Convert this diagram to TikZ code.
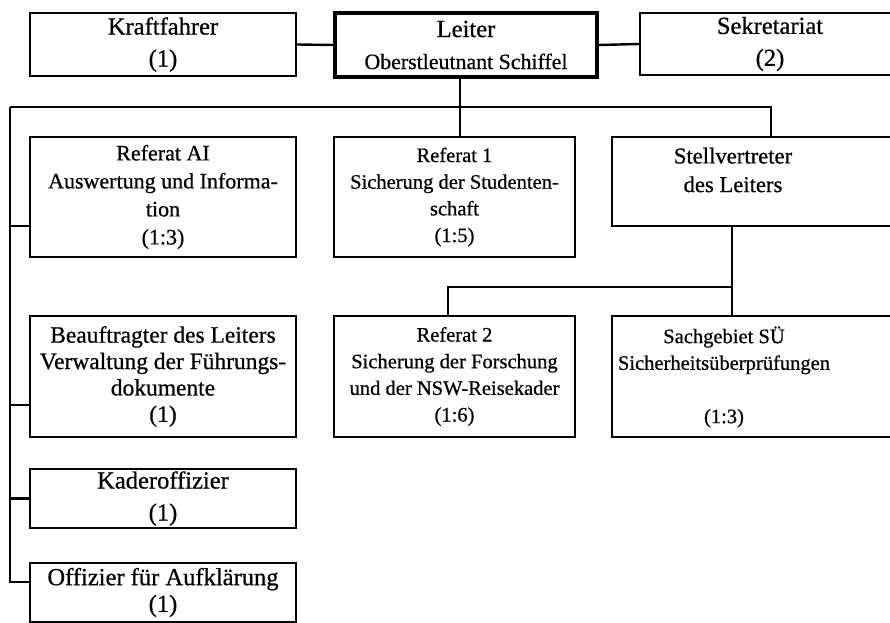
\documentclass[tikz,border=0pt]{standalone}
\usepackage{fontspec}
\setmainfont{Liberation Serif}[RawFeature={embolden=0.7}]
\usepackage{tikz}
\usetikzlibrary{calc}

\begin{document}
\begin{tikzpicture}[
  x=0.75pt, y=-0.75pt,
  font=\fontsize{16.5}{21}\selectfont,
  box/.style   = {draw, line width=1.8pt, align=center, inner sep=0pt},
  boss/.style  = {box, line width=3pt},
  txt/.style   = {align=center, inner sep=0pt},
  link/.style  = {draw, line width=1.8pt},
  big/.style   = {font=\fontsize{18.4}{22}\selectfont},
  narrow/.style= {font=\fontsize{15.4}{20}\selectfont},
]
\useasboundingbox (0,0) rectangle (890,623);
\clip (0,0) rectangle (890,623);

% top row
\node[box, big,  minimum width=199.5pt, minimum height=47.25pt] (kraft)  at (163,44.5) {Kraftfahrer\\[2pt](1)};
\node[boss, big, minimum width=196.5pt, minimum height=48pt]    (leiter) at (466,45)   {Leiter\\[2pt]{\fontsize{16.4}{19}\selectfont Oberstleutnant Schiffel}};
\node[box, big,  minimum width=195pt,   minimum height=46.5pt]  (sekr)   at (770,44)   {Sekretariat\\[2pt](2)};

% second row
\node[box, minimum width=199.5pt, minimum height=90pt]            (refai) at (163,197)   {Referat AI\\Auswertung und Informa-\\tion\\(1:3)};
\node[box, narrow, minimum width=180.75pt, minimum height=90pt]   (ref1)  at (454.5,197) {Referat 1\\Sicherung der Studenten-\\schaft\\(1:5)};
\node[box, minimum width=216pt, minimum height=66.75pt]           (stv)   at (756,181.5) {};
\node[txt, font=\fontsize{17}{21.5}\selectfont] (stvtext) at (733,170) {Stellvertreter\\des Leiters};

% third row
\node[box, font=\fontsize{17.6}{19.8}\selectfont, minimum width=199.5pt, minimum height=90.75pt] (beauf) at (163,376.5) {Beauftragter des Leiters\\Verwaltung der Führungs-\\dokumente\\(1)};
\node[box, narrow, minimum width=180.75pt, minimum height=90.75pt] (ref2)  at (454.5,376.5) {Referat 2\\Sicherung der Forschung\\und der NSW-Reisekader\\(1:6)};
\node[box, minimum width=216pt, minimum height=90.75pt]            (sach)  at (756,376.5)   {};
\node[txt, narrow] (sachtext) at (724,377) {Sachgebiet SÜ\\Sicherheitsüberprüfungen\\\mbox{}\\(1:3)};

% left column below
\node[box, big, minimum width=199.5pt, minimum height=44.25pt] (kader) at (163,498.5) {Kaderoffizier\\[2pt](1)};
\node[box, big, minimum width=199.5pt, minimum height=44.25pt] (offz)  at (163,592.5) {Offizier für Aufklärung\\[-2pt](1)};

% connectors
\coordinate (trunk) at (460,107);
\coordinate (lt) at (10,107);
\coordinate (rt) at (771,107);
\coordinate (sj) at (732,287);

\draw[link] (kraft.east) -- (leiter.west);
\draw[link] (leiter.east) -- (sekr.west);
\draw[link] (leiter.south -| trunk) -- (ref1.north -| trunk);
\draw[link] (lt) -- (rt) -- (stv.north -| rt);
\draw[link] (lt) |- ($(offz.west)+(0,-10.5)$);
\draw[link] ($(refai.west)+(0,29)$) -| (lt);
\draw[link] ($(beauf.west)+(0,28.5)$) -| (lt);
\draw[link] (kader.west) -| (lt);

\draw[link] (stv.south -| sj) -- (sach.north -| sj);
\draw[link] (sj) -| ($(ref2.north)+(-6.5,0)$);

\end{tikzpicture}
\end{document}
